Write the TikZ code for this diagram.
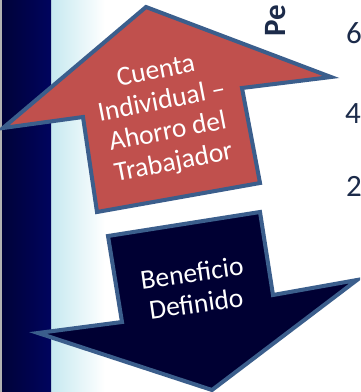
\documentclass[tikz,border=0pt]{standalone}
\usepackage{fontspec}
\setmainfont{Carlito}
\usepackage{tikz}
\usetikzlibrary{positioning}
\definecolor{redfill}{HTML}{C0504D}
\definecolor{navyfill}{HTML}{000033}
\definecolor{edgeblue}{HTML}{3B5E8C}
\definecolor{axisnavy}{HTML}{1C2B4A}
\definecolor{bandnavy}{HTML}{00045E}
\definecolor{paleband}{HTML}{C6E9F0}
\tikzstyle{uparrow}=[draw=edgeblue, line width=4pt, fill=redfill, line join=miter]
\tikzstyle{downarrow}=[draw=edgeblue, line width=4pt, fill=navyfill, line join=miter]
\tikzstyle{arrowtext}=[text=white, align=center, inner sep=0pt, font=\fontsize{27.5}{31}\selectfont]
\tikzstyle{tick}=[text=axisnavy, font=\fontsize{31}{33}\selectfont, anchor=base west, inner sep=0pt]
\tikzstyle{axistitle}=[text=axisnavy, font=\bfseries\fontsize{31}{33}\selectfont, rotate=90, anchor=base west, inner sep=0pt]

\begin{document}
\begin{tikzpicture}[x=1pt,y=-1pt]
\useasboundingbox (0,0) rectangle (360,392);
\clip (0,0) rectangle (360,392);
%background
\fill[white] (0,0) rectangle (360,392);
\shade[left color=paleband, right color=white] (51,0) rectangle (105,392);
\shade[left color=bandnavy!60!black, right color=bandnavy] (2,0) rectangle (51,392);
\fill[gray!60] (0,0) rectangle (2,392);

%Axis
\node[axistitle](ttl) at (285,37){Pe};
\node[tick](t6) at (346,43){6};
\node[tick](t4) at (345,123){4};
\node[tick](t2) at (346,196){2};

%Arrows
\draw[uparrow] (146,7) -- (331,77) -- (242,88) -- (260,183) -- (97,212) -- (83,117) -- (3,128) -- cycle;
\draw[downarrow] (108,236) -- (260,212) -- (273,295) -- (357,280) -- (212,390) -- (38,333) -- (122,322) -- cycle;

%Text
\node[arrowtext, rotate=11](cuenta) at (165,118){Cuenta\\Individual --\\Ahorro del\\Trabajador};
\node[arrowtext, rotate=8](benef) at (194,288){Beneficio\\Definido};
\end{tikzpicture}
\end{document}
